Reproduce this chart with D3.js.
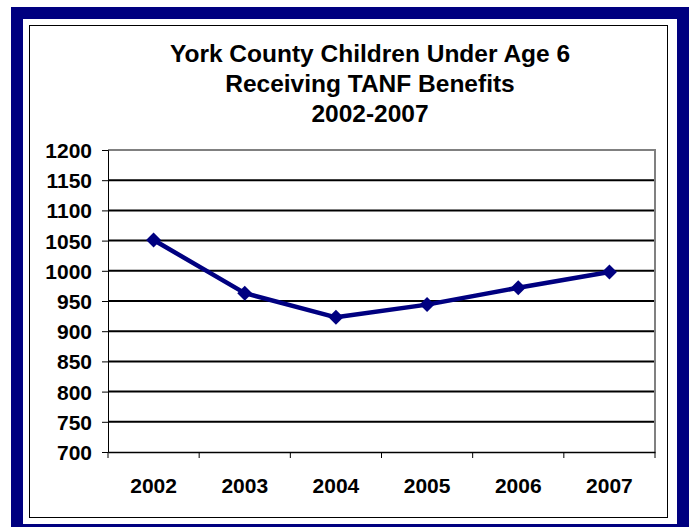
<!DOCTYPE html>
<html>
<head>
  <meta charset="utf-8">
  <title>York County Children Under Age 6 Receiving TANF Benefits</title>
  <script src="https://d3js.org/d3.v7.min.js"></script>
  <style>
    body { margin: 0; background: #fff; }
    svg text { font-family: "Liberation Sans", Arial, sans-serif; font-weight: bold; fill: #000; }
  </style>
</head>
<body>
  <svg width="689" height="527"></svg>
  <script>
    // chart data
    const years = ["2002", "2003", "2004", "2005", "2006", "2007"];
    const children = [1051, 963, 923, 944, 972, 998];
    const yTicks = [700, 750, 800, 850, 900, 950, 1000, 1050, 1100, 1150, 1200];
    const titleLines = ["York County Children Under Age 6", "Receiving TANF Benefits", "2002-2007"];

    const svg = d3.select("svg");
    const navy = "#000080";

    // outer navy frame, white gap, thin black border
    svg.append("rect").attr("x", 11).attr("y", 7).attr("width", 690).attr("height", 530).attr("fill", navy);
    svg.append("rect").attr("x", 23).attr("y", 19).attr("width", 654).attr("height", 505).attr("fill", "#fff");
    svg.append("rect").attr("x", 29.5).attr("y", 25.5).attr("width", 638).attr("height", 492)
      .attr("fill", "#fff").attr("stroke", "#000").attr("stroke-width", 1);

    // title
    svg.append("g").selectAll("text")
      .data(titleLines)
      .enter().append("text")
      .attr("x", 370)
      .attr("y", (d, i) => 62 + i * 30)
      .attr("text-anchor", "middle")
      .style("font-size", "24.5px")
      .text(d => d);

    // plot area
    const plotL = 108, plotR = 655, plotT = 150, plotB = 452;

    const x = d3.scaleBand().domain(years).range([plotL, plotR]);
    const y = d3.scaleLinear().domain([700, 1200]).range([plotB, plotT]);

    // gridlines
    svg.append("g").selectAll("line")
      .data(yTicks.filter(v => v > 700 && v < 1200))
      .enter().append("line")
      .attr("x1", plotL).attr("x2", plotR)
      .attr("y1", d => y(d)).attr("y2", d => y(d))
      .attr("stroke", "#000").attr("stroke-width", 2);

    // plot border (top and right)
    svg.append("path")
      .attr("d", `M${plotL},${y(1200)}H${plotR}V${plotB}`)
      .attr("fill", "none").attr("stroke", "#808080").attr("stroke-width", 2);

    // y axis
    const yAxis = svg.append("g")
      .attr("transform", `translate(${plotL},0)`)
      .call(d3.axisLeft(y).tickValues(yTicks).tickFormat(d3.format("d")).tickSize(6).tickPadding(10));
    yAxis.select(".domain").attr("stroke", "#000").attr("stroke-width", 1);
    yAxis.selectAll(".tick line").attr("stroke", "#000");
    yAxis.selectAll("text").style("font-size", "21px").style("font-family", "Liberation Sans, Arial, sans-serif").attr("dy", "0.36em");

    // x axis
    const xAxis = svg.append("g")
      .attr("transform", `translate(0,${plotB})`)
      .call(d3.axisBottom(x).tickSize(0).tickPadding(26));
    xAxis.select(".domain").attr("stroke", "#000").attr("stroke-width", 1.5);
    xAxis.selectAll("text").style("font-size", "21px").style("font-family", "Liberation Sans, Arial, sans-serif");

    // category separator ticks
    svg.append("g").selectAll("line")
      .data(x.domain().map(d => x(d)).concat([plotR]))
      .enter().append("line")
      .attr("x1", d => d).attr("x2", d => d)
      .attr("y1", plotB).attr("y2", plotB + 6)
      .attr("stroke", "#000").attr("stroke-width", 1);

    // series line
    const pts = years.map((yr, i) => [x(yr) + x.bandwidth() / 2, y(children[i])]);
    svg.append("path")
      .attr("d", d3.line()(pts))
      .attr("fill", "none")
      .attr("stroke", navy)
      .attr("stroke-width", 4.5)
      .attr("stroke-linejoin", "round");

    // diamond markers
    svg.append("g").selectAll("path")
      .data(pts)
      .enter().append("path")
      .attr("transform", d => `translate(${d[0]},${d[1]})`)
      .attr("d", "M0,-7.5L7.5,0L0,7.5L-7.5,0Z")
      .attr("fill", navy);
  </script>
</body>
</html>
